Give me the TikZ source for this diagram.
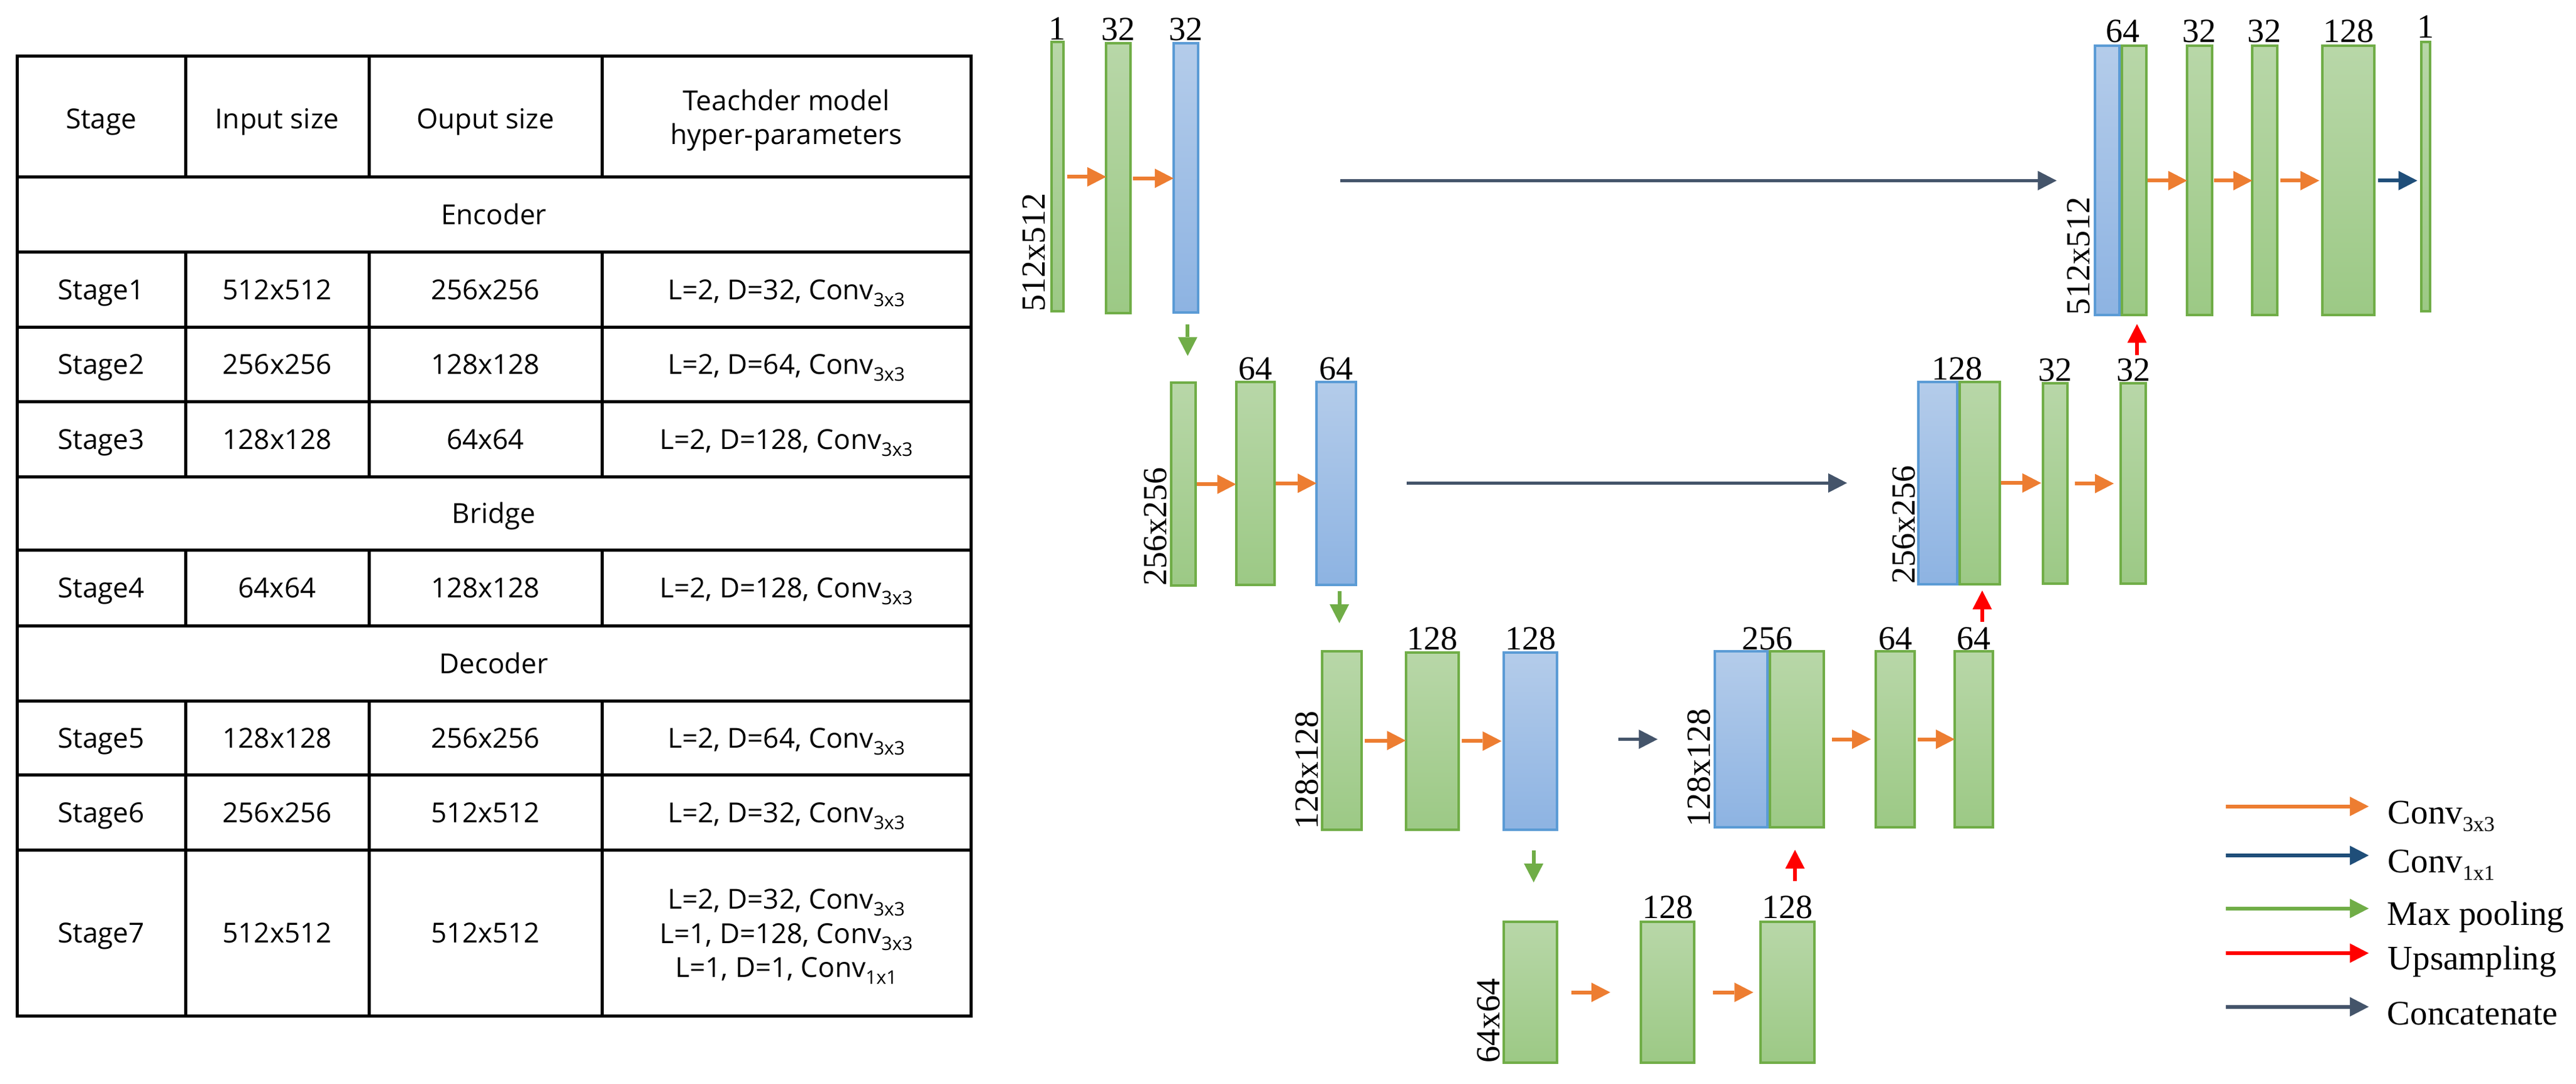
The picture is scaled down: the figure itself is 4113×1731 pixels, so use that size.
\documentclass[tikz,border=0pt]{standalone}
\usepackage{fontspec}
\setmainfont{Liberation Serif}
\newfontfamily\tabfam{Open Sans}
\usetikzlibrary{arrows.meta}

\definecolor{gtop}{HTML}{B8D7A8}
\definecolor{gbot}{HTML}{9CC985}
\definecolor{gline}{HTML}{70AD47}
\definecolor{btop}{HTML}{B4CCEA}
\definecolor{bbot}{HTML}{8DB3E2}
\definecolor{bline}{HTML}{5B9BD5}
\definecolor{convor}{HTML}{ED7D31}
\definecolor{cone}{HTML}{1F4E79}
\definecolor{poolg}{HTML}{70AD47}
\definecolor{upred}{HTML}{FF0000}
\definecolor{catc}{HTML}{44546A}

\newcommand\tabsize{\tabfam\fontsize{44pt}{53pt}\selectfont}
\newcommand\labfont{\fontsize{54pt}{60pt}\selectfont}
\newcommand\legsize{\fontsize{55pt}{60pt}\selectfont}
\newcommand\tsub[1]{\raisebox{-11pt}{\fontsize{30pt}{30pt}\selectfont #1}}
\newcommand\lsub[1]{\raisebox{-12pt}{\fontsize{34pt}{34pt}\selectfont #1}}

\newcommand\mkbar[6]{%
  \pgfmathsetmacro\bw{#5-#3-4}%
  \pgfmathsetmacro\bh{#6-#4-4}%
  \pgfmathsetmacro\bx{(#3+#5)/2}%
  \pgfmathsetmacro\by{(#4+#6)/2}%
  \node[#2, minimum width=\bw pt, minimum height=\bh pt] (#1) at (\bx,\by) {};}

\tikzset{
  gbar/.style={rectangle, draw=gline, line width=4pt, top color=gtop, bottom color=gbot, inner sep=0pt, outer sep=0pt},
  bbar/.style={rectangle, draw=bline, line width=4pt, top color=btop, bottom color=bbot, inner sep=0pt, outer sep=0pt},
  arr/.style={line width=6pt, -{Triangle[length=30pt,width=31pt,line width=0pt]}},
  conv/.style={arr, draw=convor},
  convone/.style={arr, draw=cone},
  pool/.style={arr, draw=poolg},
  upsm/.style={arr, draw=upred},
  cat/.style={arr, draw=catc, line width=5pt},
  lab/.style={font=\labfont, anchor=base, inner sep=0pt},
  rlab/.style={font=\labfont, rotate=90, anchor=base west, inner sep=0pt},
  ttxt/.style={font=\tabsize, anchor=base, inner sep=0pt},
  legtxt/.style={font=\legsize, anchor=base west, inner sep=0pt},
  tabline/.style={line width=5pt, draw=black},
}

\begin{document}
\begin{tikzpicture}[x=1pt,y=-1pt]
\fill[white] (0,0) rectangle (4113,1731);
\useasboundingbox (0,0) rectangle (4113,1731);

% ---------------- table ----------------
\draw[tabline] (27,90) rectangle (1550,1622);
\foreach \yy in {282,402,522,641,761,878,999,1119,1237,1357}
  \draw[tabline] (27,\yy) -- (1550,\yy);
\foreach \xx in {296,589,961}{
  \draw[tabline] (\xx,90) -- (\xx,282);
  \draw[tabline] (\xx,402) -- (\xx,761);
  \draw[tabline] (\xx,878) -- (\xx,999);
  \draw[tabline] (\xx,1119) -- (\xx,1622);
}
\node[ttxt] (h1) at (161.5,205) {Stage};
\node[ttxt] (h2) at (442.5,205) {Input size};
\node[ttxt] (h3) at (775,205) {Ouput size};
\node[ttxt] (h4a) at (1255.5,177) {Teachder model};
\node[ttxt] (h4b) at (1255.5,230) {hyper-parameters};
\node[ttxt] (enc) at (788.5,358) {Encoder};
\node[ttxt] (s1a) at (161.5,478) {Stage1};
\node[ttxt] (s1b) at (442.5,478) {512x512};
\node[ttxt] (s1c) at (775,478) {256x256};
\node[ttxt] (s1d) at (1255.5,478) {L=2, D=32, Conv\tsub{3x3}};
\node[ttxt] (s2a) at (161.5,597.5) {Stage2};
\node[ttxt] (s2b) at (442.5,597.5) {256x256};
\node[ttxt] (s2c) at (775,597.5) {128x128};
\node[ttxt] (s2d) at (1255.5,597.5) {L=2, D=64, Conv\tsub{3x3}};
\node[ttxt] (s3a) at (161.5,717) {Stage3};
\node[ttxt] (s3b) at (442.5,717) {128x128};
\node[ttxt] (s3c) at (775,717) {64x64};
\node[ttxt] (s3d) at (1255.5,717) {L=2, D=128, Conv\tsub{3x3}};
\node[ttxt] (brg) at (788.5,835.5) {Bridge};
\node[ttxt] (s4a) at (161.5,954.5) {Stage4};
\node[ttxt] (s4b) at (442.5,954.5) {64x64};
\node[ttxt] (s4c) at (775,954.5) {128x128};
\node[ttxt] (s4d) at (1255.5,954.5) {L=2, D=128, Conv\tsub{3x3}};
\node[ttxt] (dec) at (788.5,1075) {Decoder};
\node[ttxt] (s5a) at (161.5,1194) {Stage5};
\node[ttxt] (s5b) at (442.5,1194) {128x128};
\node[ttxt] (s5c) at (775,1194) {256x256};
\node[ttxt] (s5d) at (1255.5,1194) {L=2, D=64, Conv\tsub{3x3}};
\node[ttxt] (s6a) at (161.5,1313) {Stage6};
\node[ttxt] (s6b) at (442.5,1313) {256x256};
\node[ttxt] (s6c) at (775,1313) {512x512};
\node[ttxt] (s6d) at (1255.5,1313) {L=2, D=32, Conv\tsub{3x3}};
\node[ttxt] (s7a) at (161.5,1505.5) {Stage7};
\node[ttxt] (s7b) at (442.5,1505.5) {512x512};
\node[ttxt] (s7c) at (775,1505.5) {512x512};
\node[ttxt] (s7d1) at (1255.5,1451) {L=2, D=32, Conv\tsub{3x3}};
\node[ttxt] (s7d2) at (1255.5,1506) {L=1, D=128, Conv\tsub{3x3}};
\node[ttxt] (s7d3) at (1255.5,1560.5) {L=1, D=1, Conv\tsub{1x1}};

% ---------------- bars ----------------
% row 1
\mkbar{A1}{gbar}{1676.5}{65.4}{1699.6}{499.3}
\mkbar{A2}{gbar}{1764.2}{67.5}{1807.2}{502}
\mkbar{A3}{bbar}{1871.8}{67.5}{1914.8}{501.4}
\mkbar{E1b}{bbar}{3342.7}{71.4}{3386.2}{505.4}
\mkbar{E1g}{gbar}{3386.2}{71.4}{3429}{505.4}
\mkbar{E2}{gbar}{3490}{71.4}{3533.6}{505.4}
\mkbar{E3}{gbar}{3594}{71.4}{3637.5}{505.4}
\mkbar{E4}{gbar}{3706}{71.4}{3793}{505.4}
\mkbar{E5}{gbar}{3863.6}{65.4}{3882}{499.3}
% row 2
\mkbar{B1}{gbar}{1867.9}{609.3}{1911}{937.3}
\mkbar{B2}{gbar}{1971.5}{607.7}{2037}{935.7}
\mkbar{B3}{bbar}{2100}{607.7}{2167}{935.7}
\mkbar{F1b}{bbar}{3061}{607.5}{3127}{935}
\mkbar{F1g}{gbar}{3127}{607.5}{3194.7}{935}
\mkbar{F2}{gbar}{3260}{610}{3303}{934.3}
\mkbar{F3}{gbar}{3384}{610}{3428}{934.3}
% row 3
\mkbar{C1}{gbar}{2109}{1038}{2176}{1327}
\mkbar{C2}{gbar}{2242.5}{1039.6}{2330.5}{1327.3}
\mkbar{C3}{bbar}{2399.4}{1039.6}{2488}{1327.3}
\mkbar{G1b}{bbar}{2735.5}{1038}{2824}{1323}
\mkbar{G1g}{gbar}{2824}{1038}{2914}{1323}
\mkbar{G2}{gbar}{2993}{1038}{3059}{1323}
\mkbar{G3}{gbar}{3119}{1038}{3184}{1323}
% row 4
\mkbar{D1}{gbar}{2399.4}{1470}{2488}{1699.3}
\mkbar{D2}{gbar}{2618}{1470}{2707}{1699.3}
\mkbar{D3}{gbar}{2809.4}{1470}{2898.7}{1699.3}

% ---------------- labels ----------------
\node[lab] (lA1) at ([yshift=4pt]A1.north) {1};
\node[lab] (lA2) at ([yshift=5pt]A2.north) {32};
\node[lab] (lA3) at ([yshift=5pt]A3.north) {32};
\node[lab] (lE1) at ([xshift=5pt,yshift=6pt]E1b.north east) {64};
\node[lab] (lE2) at ([yshift=6pt]E2.north) {32};
\node[lab] (lE3) at ([yshift=6pt]E3.north) {32};
\node[lab] (lE4) at ([yshift=6pt]E4.north) {128};
\node[lab] (lE5) at ([yshift=7pt]E5.north) {1};
\node[lab] (lB2) at ([yshift=3pt]B2.north) {64};
\node[lab] (lB3) at ([yshift=3pt]B3.north) {64};
\node[lab] (lF1) at ([yshift=3pt]F1b.north east) {128};
\node[lab] (lF2) at ([yshift=4pt]F2.north) {32};
\node[lab] (lF3) at ([yshift=4pt]F3.north) {32};
\node[lab] (lC2) at ([yshift=4pt]C2.north) {128};
\node[lab] (lC3) at ([yshift=4pt]C3.north) {128};
\node[lab] (lG1) at ([yshift=3pt]G1b.north east) {256};
\node[lab] (lG2) at ([yshift=3pt]G2.north) {64};
\node[lab] (lG3) at ([yshift=3pt]G3.north) {64};
\node[lab] (lD2) at ([yshift=6pt]D2.north) {128};
\node[lab] (lD3) at ([yshift=6pt]D3.north) {128};

\node[rlab] (rA1) at ([xshift=-10pt]A1.south west) {512x512};
\node[rlab] (rE1) at ([xshift=-8pt]E1b.south west) {512x512};
\node[rlab] (rB1) at ([xshift=-7pt]B1.south west) {256x256};
\node[rlab] (rF1) at ([xshift=-6pt]F1b.south west) {256x256};
\node[rlab] (rC1) at ([xshift=-7pt]C1.south west) {128x128};
\node[rlab] (rG1) at ([xshift=-7pt]G1b.south west) {128x128};
\node[rlab] (rD1) at ([xshift=-7pt]D1.south west) {64x64};

% ---------------- connectors ----------------
% row 1
\draw[conv, shorten <=6pt] (A1.east) -- (A1.east -| A2.west);
\draw[conv, shorten <=4pt] (A2.east) -- (A2.east -| A3.west);
\draw[cat, shorten <=227pt, shorten >=61pt] (A3.east |- E1b.west) -- (E1b.west);
\draw[conv, shorten <=2pt] (E1g.east) -- (E1g.east -| E2.west);
\draw[conv, shorten <=3pt] (E2.east) -- (E2.east -| E3.west);
\draw[conv, shorten <=5pt, shorten >=5pt] (E3.east) -- (E3.east -| E4.west);
\draw[convone, shorten <=6pt, shorten >=6pt] (E4.east) -- (E4.east -| E5.west);
\draw[pool, shorten <=19pt, shorten >=43pt] ([xshift=3pt]A3.south) -- ([xshift=3pt]A3.south |- B1.north);
\draw[upsm, shorten <=45pt, shorten >=14pt] ([xshift=6pt]F3.north) -- ([xshift=6pt]F3.north |- E1g.south);
% row 2
\draw[conv, shorten <=2pt] (B1.east) -- (B1.east -| B2.west);
\draw[conv, shorten <=2pt] (B2.east) -- (B2.east -| B3.west);
\draw[cat, shorten <=81pt, shorten >=114pt] (B3.east |- F1b.west) -- (F1b.west);
\draw[conv, shorten <=2pt, shorten >=3pt] (F1g.east) -- (F1g.east -| F2.west);
\draw[conv, shorten <=12pt, shorten >=11pt] (F2.east) -- (F2.east -| F3.west);
\draw[pool, shorten <=10pt, shorten >=45pt] ([xshift=5pt]B3.south) -- ([xshift=5pt]B3.south |- C1.north);
\draw[upsm, shorten <=47pt, shorten >=10pt] ([xshift=4pt]F1g.south |- G3.north) -- ([xshift=4pt]F1g.south);
% row 3
\draw[conv, shorten <=5pt] (C1.east) -- (C1.east -| C2.west);
\draw[conv, shorten <=5pt, shorten >=4pt] (C2.east) -- (C2.east -| C3.west);
\draw[cat, shorten <=98pt, shorten >=91pt] (C3.east |- G1b.west) -- (G1b.west);
\draw[conv, shorten <=13pt, shorten >=8pt] (G1g.east) -- (G1g.east -| G2.west);
\draw[conv, shorten <=5pt] (G2.east) -- (G2.east -| G3.west);
\draw[pool, shorten <=33pt, shorten >=63pt] ([xshift=5pt]C3.south) -- ([xshift=5pt]C3.south |- D1.north);
\draw[upsm, shorten <=65pt, shorten >=36pt] ([xshift=-3pt]G1g.south |- D3.north) -- ([xshift=-3pt]G1g.south);
% row 4
\draw[conv, shorten <=23pt, shorten >=49pt] (D1.east) -- (D1.east -| D2.west);
\draw[conv, shorten <=30pt, shorten >=12pt] (D2.east) -- (D2.east -| D3.west);

% ---------------- legend ----------------
\coordinate (lg1a) at (3554,1287.7); \coordinate (lg1b) at (3782,1287.7);
\coordinate (lg2a) at (3554,1366);   \coordinate (lg2b) at (3782,1366);
\coordinate (lg3a) at (3554,1450.7); \coordinate (lg3b) at (3782,1450.7);
\coordinate (lg4a) at (3554,1522);   \coordinate (lg4b) at (3782,1522);
\coordinate (lg5a) at (3554,1607.7); \coordinate (lg5b) at (3782,1607.7);
\draw[conv] (lg1a) -- (lg1b);
\draw[convone] (lg2a) -- (lg2b);
\draw[pool] (lg3a) -- (lg3b);
\draw[upsm] (lg4a) -- (lg4b);
\draw[cat, line width=6pt] (lg5a) -- (lg5b);
\node[legtxt] (lt1) at (3812.7,1315) {Conv\lsub{3x3}};
\node[legtxt] (lt2) at (3812.7,1393) {Conv\lsub{1x1}};
\node[legtxt] (lt3) at (3811.6,1477) {Max pooling};
\node[legtxt] (lt4) at (3812.7,1548) {Upsampling};
\node[legtxt] (lt5) at (3811.6,1636) {Concatenate};
\end{tikzpicture}
\end{document}
